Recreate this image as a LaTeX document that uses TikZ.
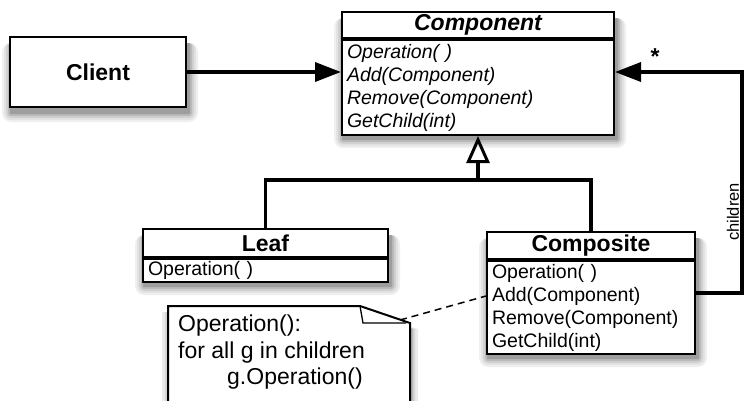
\documentclass[tikz,border=0pt]{standalone}
\usepackage{fontspec}
\setmainfont{Liberation Sans}
\usetikzlibrary{arrows.meta, positioning}

\tikzset{
    box/.style={draw, line width=2pt, fill=white, inner sep=0pt},
    title/.style={box, font=\fontsize{23}{26}\selectfont\bfseries},
    ops/.style={box, inner xsep=5pt, inner ysep=1pt, align=left, font=\fontsize{19.5}{23}\selectfont},
    link/.style={line width=3.5pt, -{Triangle[length=26pt, width=19pt]}},
    isa/.style={line width=3.5pt, -{Triangle[open, length=27pt, width=23pt, line width=3pt]}}
}

\newcommand{\castshadow}[4]{%
    \fill[black!6, rounded corners=9pt] (#1-8, #2+6) rectangle (#3+12, #4+15);
    \fill[black!11, rounded corners=7pt] (#1-6, #2+6) rectangle (#3+10, #4+13);
    \fill[black!18, rounded corners=5pt] (#1-4, #2+6) rectangle (#3+8, #4+11);
    \fill[black!27, rounded corners=3pt] (#1-2, #2+6) rectangle (#3+6, #4+9);
    \fill[black!38, rounded corners=1pt] (#1, #2+6) rectangle (#3+4, #4+7);
}

\begin{document}
\begin{tikzpicture}[x=1pt, y=-1pt]
    \useasboundingbox (0, 0) rectangle (746, 400);

    \castshadow{10}{37}{186}{107}
    \castshadow{342}{12}{614}{133}
    \castshadow{143}{229}{388}{280}
    \castshadow{487}{232}{695}{352}
    \fill[black!8] (162, 420) -- (162, 312) -- (362, 312) -- (418, 329) -- (418, 420) -- cycle;
    \fill[black!16] (165, 420) -- (165, 312) -- (362, 312) -- (415, 329) -- (415, 420) -- cycle;
    \fill[black!28] (168, 420) -- (168, 312) -- (362, 312) -- (413, 329) -- (413, 420) -- cycle;

    \node[title, minimum width=176pt, minimum height=70pt] (client) at (98, 72) {Client};

    \node[title, minimum width=272pt, minimum height=26pt, font=\fontsize{23}{26}\selectfont\bfseries\itshape] (component) at (478, 25) {Component};
    \node[ops, text width=262pt, minimum height=95pt, below=0pt of component, font=\fontsize{19.5}{23}\selectfont\itshape] (componentops)
        {Operation( )\\Add(Component)\\Remove(Component)\\GetChild(int)};

    \node[title, minimum width=245pt, minimum height=28pt] (leaf) at (265.5, 243) {Leaf};
    \node[ops, text width=235pt, minimum height=23pt, below=0pt of leaf] (leafops) {Operation( )};

    \node[title, minimum width=208pt, minimum height=27pt] (composite) at (591, 245.5) {Composite};
    \node[ops, text width=198pt, minimum height=93pt, below=0pt of composite] (compositeops)
        {Operation( )\\Add(Component)\\Remove(Component)\\GetChild(int)};

    % note
    \draw[box] (168, 420) -- (168, 306) -- (360, 306) -- (410, 323) -- (410, 420) -- cycle;
    \draw[line width=1.3pt] (360, 306) -- (363, 323) -- (406, 323);
    \node[anchor=north west, inner sep=0pt, align=left, font=\fontsize{23}{26.5}\selectfont] (note) at (178, 315)
        {Operation():\\for all g in children\\\hspace*{49pt}g.Operation()};
    \coordinate (notecorner) at (400, 320);
    \draw[line width=1.5pt, dashed, dash pattern=on 7pt off 5pt] (notecorner) -- ([yshift=11.5pt]compositeops.west);

    % connectors
    \draw[link] (client) -- (client -| componentops.west);

    \coordinate (fork) at (478, 180);
    \draw[line width=3.5pt] (leaf) |- (fork) -| (composite);
    \draw[isa] (fork) -- (componentops);

    \coordinate (corner) at (742, 72);
    \draw[link] ([yshift=14.5pt]compositeops.east) -| (corner) -- (corner -| componentops.east);
    \node[anchor=base, font=\fontsize{23}{23}\selectfont\bfseries] (many) at (655, 64) {*};
    \node[rotate=90, font=\fontsize{16.5}{18}\selectfont] (role) at (733, 212) {children};
\end{tikzpicture}
\end{document}
